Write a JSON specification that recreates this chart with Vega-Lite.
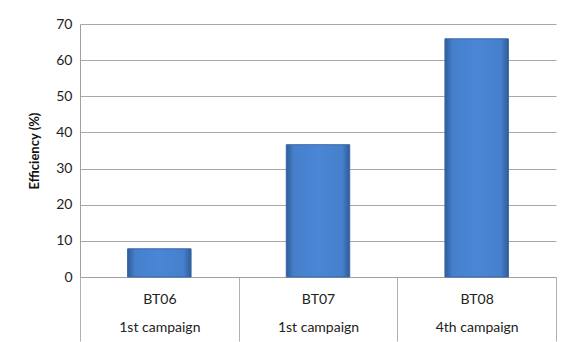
{
  "$schema": "https://vega.github.io/schema/vega-lite/v6.json",
  "width": 476,
  "height": 253,
  "autosize": {"type": "none"},
  "padding": {"left": 80, "top": 24, "right": 9, "bottom": 65},
  "background": "white",
  "config": {"view": {"stroke": null}, "font": "Lato"},
  "data": {
    "values": [
      {"site": "BT06|1st campaign", "efficiency": 7.8},
      {"site": "BT07|1st campaign", "efficiency": 36.6},
      {"site": "BT08|4th campaign", "efficiency": 65.9}
    ]
  },
  "resolve": {"scale": {"x": "independent"}, "axis": {"x": "independent"}},
  "layer": [
    {
      "mark": {
        "type": "bar",
        "stroke": "#3a67a3",
        "strokeWidth": 1,
        "color": {
          "gradient": "linear",
          "x1": 0, "x2": 1, "y1": 0, "y2": 0,
          "stops": [
            {"offset": 0, "color": "#2f5c99"},
            {"offset": 0.12, "color": "#4680cc"},
            {"offset": 0.5, "color": "#4a86d6"},
            {"offset": 0.88, "color": "#4680cc"},
            {"offset": 1, "color": "#2f5c99"}
          ]
        }
      },
      "encoding": {
        "x": {
          "field": "site",
          "type": "nominal",
          "sort": null,
          "scale": {"paddingInner": 0.6, "paddingOuter": 0.3},
          "axis": null
        },
        "y": {
          "field": "efficiency",
          "type": "quantitative",
          "scale": {"domain": [0, 70], "nice": false},
          "axis": {
            "values": [0, 10, 20, 30, 40, 50, 60, 70],
            "title": "Efficiency (%)",
            "titleFontSize": 13,
            "titleFontWeight": "bold",
            "titleColor": "#111",
            "titlePadding": 14,
            "labelFontSize": 14,
            "labelColor": "#222",
            "labelPadding": 8,
            "ticks": false,
            "domainColor": "#a0a0a0",
            "gridColor": "#a8a8a8",
            "grid": true
          }
        }
      }
    },
    {
      "mark": {"type": "point", "opacity": 0},
      "encoding": {
        "x": {
          "field": "site",
          "type": "nominal",
          "sort": null,
          "scale": {"type": "band", "paddingInner": 0, "paddingOuter": 0},
          "axis": {
            "title": null,
            "labelAngle": 0,
            "labelExpr": "datum.value ? split(datum.value, '|') : ''",
            "labelFontSize": 14,
            "labelColor": "#222",
            "labelLineHeight": 28,
            "labelBaseline": "top",
            "labelPadding": -49,
            "tickBand": "extent",
            "tickSize": 64,
            "tickColor": "#b0b0b0",
            "domainColor": "#a0a0a0",
            "grid": false
          }
        }
      }
    }
  ]
}
